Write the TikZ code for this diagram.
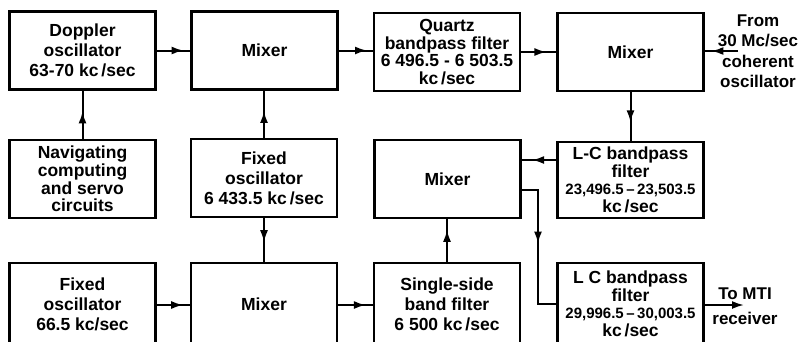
\documentclass[tikz,border=0pt]{standalone}
\usepackage{fontspec}
\setmainfont{Liberation Sans}
\usetikzlibrary{arrows.meta,decorations.markings}
\tikzset{
  blk/.style={draw, line width=2.4pt, minimum width=146pt, minimum height=78pt,
    align=center, inner sep=0pt,
    font=\bfseries\fontsize{17.5}{20}\selectfont},
  blkb/.style={blk, minimum height=82pt},
  ln/.style={line width=2pt},
  marr/.style={ln, postaction={decorate},
    decoration={markings, mark=at position #1 with {\arrow{Latex[length=12pt,width=8pt]}}}},
  endarr/.style={ln, -{Latex[length=12pt,width=8pt]}},
  lbl/.style={align=center, inner sep=0pt, font=\bfseries\fontsize{17}{20.5}\selectfont},
}
\begin{document}
\begin{tikzpicture}[x=1pt,y=-1pt]
\useasboundingbox (0,0) rectangle (803,341);
\clip (0,0) rectangle (803,341);
% row 1
\node[blk] (dop) at (82.5,50.5) {Doppler\\oscillator\\63-70 kc\,/sec};
\node[blk] (mix1) at (264.5,50.5) {Mixer};
\node[blk, font=\bfseries\fontsize{17.5}{17.8}\selectfont] (qtz) at (447,52) {Quartz\\bandpass filter\\6 496.5 - 6 503.5\\kc\,/sec};
\node[blk] (mix2) at (630.5,52) {Mixer};
% row 2
\node[blk, font=\bfseries\fontsize{17.5}{17.8}\selectfont] (nav) at (82.5,179) {Navigating\\computing\\and servo\\circuits};
\node[blk] (fo1) at (264,178) {Fixed\\oscillator\\6 433.5 kc\,/sec};
\node[blk] (mixm) at (447.5,179) {Mixer};
\node[blk, minimum height=76pt, font=\bfseries\fontsize{17.5}{17.5}\selectfont] (lc1) at (630.5,180) {L-C bandpass\\filter\\{\fontsize{15}{17.5}\selectfont 23,496.5\,--\,23,503.5}\\kc\,/sec};
% row 3
\node[blkb] (fo2) at (82.5,304) {Fixed\\oscillator\\66.5 kc/sec};
\node[blkb] (mix3) at (264,304) {Mixer};
\node[blkb] (ssb) at (447,304) {Single-side\\band filter\\6 500 kc\,/sec};
\node[blkb, font=\bfseries\fontsize{17.5}{17.5}\selectfont] (lc2) at (630.5,304) {L C bandpass\\filter\\{\fontsize{15}{17.5}\selectfont 29,996.5\,--\,30,003.5}\\kc\,/sec};
% labels
\node[lbl] (from) at (758,51) {From\\30 Mc/sec\\coherent\\oscillator};
\node[lbl] (mti) at (745,306) {To MTI\\[4pt]receiver};
\coordinate (fromend) at (738,51);
\coordinate (mtiend) at (744,305);
\coordinate (y160) at (0,160);
\coordinate (y190) at (0,190);
\coordinate (y305) at (0,305);
\coordinate (jx) at (538,0);
% connectors
\draw[marr=0.8] (dop.east) -- (mix1.west |- dop.east);
\draw[marr=0.83] (mix1.east) -- (qtz.west |- mix1.east);
\draw[marr=0.72] (qtz.east) -- (mix2.west |- qtz.east);
\draw[marr=0.8] (fromend) -- (mix2.east |- fromend);
\draw[marr=0.62] (mix2.south) -- (lc1.north -| mix2.south);
\draw[marr=0.7] (lc1.west |- y160) -- (mixm.east |- y160);
\draw[marr=0.47] (mixm.east |- y190) -| (jx |- lc2.west) -- (lc2.west);
\draw[endarr] (lc2.east |- mtiend) -- (mtiend);
\draw[marr=0.57] (nav.north) -- (dop.south -| nav.north);
\draw[marr=0.57] (fo1.north) -- (mix1.south -| fo1.north);
\draw[marr=0.55] (fo1.south) -- (mix3.north -| fo1.south);
\draw[marr=0.75] (ssb.north) -- (mixm.south -| ssb.north);
\draw[marr=0.8] (fo2.east |- y305) -- (mix3.west |- y305);
\draw[marr=0.8] (mix3.east |- y305) -- (ssb.west |- y305);
\end{tikzpicture}
\end{document}
